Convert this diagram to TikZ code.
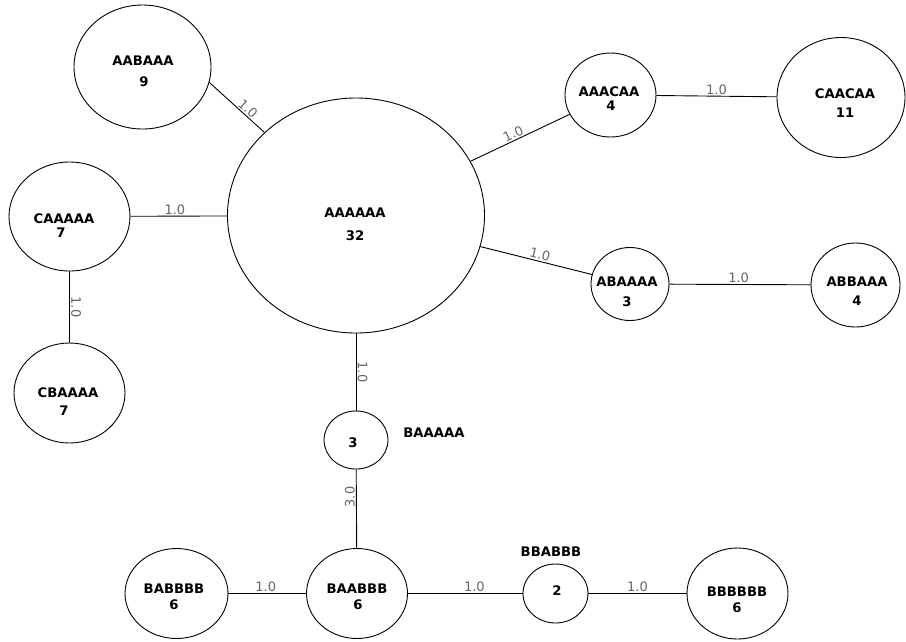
\documentclass[tikz,border=0pt]{standalone}
\usepackage{fontspec}
\setmainfont{DejaVu Sans}
\usetikzlibrary{shapes.geometric}
\begin{document}
\begin{tikzpicture}[x=1pt,y=-1pt,
  hap/.style={draw, ellipse, inner sep=0pt, line width=0.9pt},
  nm/.style={font=\fontsize{13.2}{15}\selectfont\bfseries, inner sep=0pt},
  wt/.style={font=\fontsize{13}{15}\selectfont, text=black!60, inner sep=1.2pt},
  wts/.style={wt, sloped, above},
  link/.style={line width=0.9pt}]
\useasboundingbox (0,0) rectangle (906,641);
% circles
\node[hap, minimum width=137pt, minimum height=124pt] (aab) at (142.5,67) {};
\node[hap, minimum width=257pt, minimum height=235pt] (main) at (356,215.5) {};
\node[hap, minimum width=91pt, minimum height=84pt] (aac) at (610.5,95) {};
\node[hap, minimum width=128pt, minimum height=120pt] (caac) at (841,97.5) {};
\node[hap, minimum width=121pt, minimum height=109pt] (caa) at (69.5,216.5) {};
\node[hap, minimum width=111pt, minimum height=100pt] (cba) at (69.5,393) {};
\node[hap, minimum width=78pt, minimum height=73pt] (aba) at (630,284) {};
\node[hap, minimum width=89pt, minimum height=84pt] (abb) at (855.5,285) {};
\node[hap, minimum width=64pt, minimum height=58pt] (baa) at (356,440) {};
\node[hap, minimum width=101pt, minimum height=90pt] (baab) at (357,593.5) {};
\node[hap, minimum width=103pt, minimum height=90pt] (babb) at (176.5,593.5) {};
\node[hap, minimum width=65pt, minimum height=59pt] (bbab) at (555.5,593.5) {};
\node[hap, minimum width=101pt, minimum height=91pt] (bbbb) at (737.5,593.5) {};
% texts
\node[nm] (t1a) at (143,61) {AABAAA};
\node[nm] (t1b) at (144,82) {9};
\node[nm] (t2a) at (355,213) {AAAAAA};
\node[nm] (t2b) at (355,236) {32};
\node[nm] (t3a) at (609,92) {AAACAA};
\node[nm] (t3b) at (611,106) {4};
\node[nm] (t4a) at (845,94) {CAACAA};
\node[nm] (t4b) at (845,113) {11};
\node[nm] (t5a) at (64,219) {CAAAAA};
\node[nm] (t5b) at (61,233) {7};
\node[nm] (t6a) at (68,393) {CBAAAA};
\node[nm] (t6b) at (64,411) {7};
\node[nm] (t7a) at (627,282) {ABAAAA};
\node[nm] (t7b) at (627,302) {3};
\node[nm] (t8a) at (857,282) {ABBAAA};
\node[nm] (t8b) at (857,301) {4};
\node[nm] (t9a) at (434,433) {BAAAAA};
\node[nm] (t9b) at (353,443) {3};
\node[nm] (t10a) at (357,589) {BAABBB};
\node[nm] (t10b) at (358,605) {6};
\node[nm] (t11a) at (174,589) {BABBBB};
\node[nm] (t11b) at (174,605) {6};
\node[nm] (t12a) at (551,552) {BBABBB};
\node[nm] (t12b) at (557,591) {2};
\node[nm] (t13a) at (737,592) {BBBBBB};
\node[nm] (t13b) at (737,608) {6};
% connectors
\draw[link] (aab.-13) -- node[wts, pos=0.62] (w1) {1.0} (main);
\draw[link] (main) -- node[wts, pos=0.46] (w2) {1.0} (aac);
\draw[link] (aac) -- node[wts, pos=0.5] (w3) {1.0} (caac);
\draw[link] (caa) -- node[wts, pos=0.46] (w4) {1.0} (main);
\draw[link] (caa) -- node[wt, pos=0.5, anchor=south, rotate=-90] (w5) {1.0} (cba);
\draw[link] (main) -- node[wts, pos=0.52] (w6) {1.0} (aba);
\draw[link] (aba) -- node[wts, pos=0.49] (w7) {1.0} (abb);
\draw[link] (main) -- node[wt, pos=0.5, anchor=south, rotate=-90] (w8) {1.0} (baa);
\draw[link] (baab) -- node[wt, pos=0.65, anchor=south, rotate=90] (w9) {3.0} (baa);
\draw[link] (babb) -- node[wts, pos=0.48] (w10) {1.0} (baab);
\draw[link] (baab) -- node[wts, pos=0.58] (w11) {1.0} (bbab);
\draw[link] (bbab) -- node[wts, pos=0.5] (w12) {1.0} (bbbb);
\end{tikzpicture}
\end{document}
